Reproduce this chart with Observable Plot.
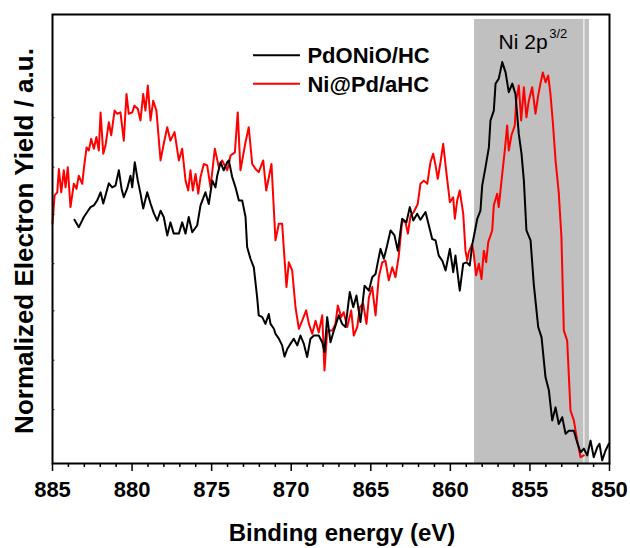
<!DOCTYPE html>
<html><head><meta charset="utf-8">
<script src="https://cdn.jsdelivr.net/npm/d3@7"></script>
<script src="https://cdn.jsdelivr.net/npm/@observablehq/plot@0.6"></script>
<style>
body{margin:0;background:#fff;}
#chart{width:630px;height:548px;}
</style>
</head><body><div id="chart"></div>
<script>
// ---- data ----
const seriesNames = ["PdONiO/HC", "Ni@Pd/aHC"];
const seriesColors = ["#000000", "#ff0000"];
const xTicks = [885, 880, 875, 870, 865, 860, 855, 850];
const xMinorTicks = [884,883,882,881,879,878,877,876,874,873,872,871,869,868,867,866,864,863,862,861,859,858,857,856,854,853,852,851];
const yMinorTicks = [12, 23, 34, 44.5, 55.5, 66, 77];
const bandStart = [858.48];
const bandEnd = [851.26];
const bandTop = 98.9;
const stripeEnergy = [851.61];
const peakLabel = "Ni 2p";
const peakSup = "3/2";

const blackEnergy = [883.62,883.35,883.03,882.82,882.61,882.40,882.19,881.98,881.81,881.67,
881.46,881.25,881.04,880.83,880.66,880.52,880.31,880.10,879.99,879.83,
879.64,879.47,879.30,879.05,878.84,878.63,878.42,878.21,878.01,877.79,
877.59,877.38,877.06,876.85,876.64,876.44,876.22,875.91,875.70,875.39,
875.18,874.96,874.76,874.65,874.44,874.24,874.02,873.92,873.71,873.50,
873.29,873.08,872.87,872.77,872.56,872.35,872.14,872.04,871.82,871.62,
871.41,871.30,871.09,870.99,870.78,870.57,870.42,870.25,870.04,869.84,
869.62,869.42,869.21,869.00,868.79,868.58,868.27,868.05,867.91,867.74,
867.53,867.32,867.01,866.80,866.59,866.32,866.10,865.90,865.65,865.39,
865.12,864.91,864.70,864.56,864.39,864.18,863.97,863.76,863.51,863.30,
863.03,862.76,862.55,862.33,862.08,861.88,861.56,861.35,861.14,860.93,
860.73,860.51,860.30,860.03,859.82,859.68,859.41,859.19,858.98,858.78,
858.63,858.31,858.11,858.00,857.79,857.58,857.48,857.27,857.16,856.96,
856.74,856.53,856.33,856.11,855.91,855.70,855.53,855.38,855.22,854.96,
854.76,854.48,854.27,854.02,853.81,853.60,853.39,853.19,852.97,852.76,
852.56,852.24,852.03,851.82,851.61,851.40,851.19,850.99,850.77,850.63,
850.46,850.25,850.04];
const blackYield = [54.3,52.6,54.9,56.0,57.1,57.5,58.6,60.4,57.9,59.7,
62.4,61.5,61.9,65.3,61.2,59.3,61.2,64.1,61.5,67.1,
63.0,60.1,56.8,60.4,57.9,55.7,54.1,56.3,54.9,50.8,
53.7,51.2,51.2,53.7,51.2,54.9,51.5,53.0,57.5,60.4,
57.8,63.0,61.5,64.1,67.1,65.3,67.1,67.5,63.8,61.5,
58.6,58.6,54.9,48.2,45.6,43.7,37.0,33.0,32.6,31.1,
33.3,31.1,30.0,28.9,27.8,26.3,23.8,25.5,26.7,27.8,
26.3,28.5,26.7,23.7,27.8,28.5,28.5,27.0,24.8,32.6,
27.0,29.6,33.0,31.1,30.4,38.2,34.8,37.4,31.5,39.6,
38.5,41.5,42.2,44.8,47.8,45.6,48.6,51.9,50.8,47.4,
54.5,53.7,57.1,54.1,55.6,54.3,56.0,53.0,50.0,49.7,
46.3,45.2,43.0,47.8,42.6,46.3,38.5,44.5,44.8,44.1,
48.6,54.5,56.3,61.9,66.0,70.4,76.4,78.6,84.6,85.7,
89.4,87.1,82.7,84.6,82.3,73.4,69.0,63.0,51.9,49.7,
40.0,30.4,28.1,19.2,16.3,9.6,12.5,8.8,10.3,6.6,
7.3,7.3,4.7,2.5,3.3,1.8,5.1,1.4,3.6,4.4,
0.7,2.9,4.4];

const redEnergy = [885.00,884.87,884.70,884.60,884.45,884.29,884.18,884.04,883.87,883.66,
883.49,883.35,883.13,883.03,882.86,882.72,882.57,882.40,882.24,882.09,
881.98,881.81,881.67,881.46,881.31,881.10,880.93,880.73,880.52,880.35,
880.21,879.99,879.85,879.64,879.47,879.30,879.16,879.01,878.84,878.67,
878.47,878.21,878.01,877.79,877.59,877.33,877.06,876.85,876.64,876.47,
876.33,876.18,876.01,875.84,875.70,875.49,875.28,875.07,874.80,874.55,
874.34,874.02,873.81,873.54,873.36,873.19,872.87,872.67,872.45,872.24,
872.04,871.76,871.57,871.24,870.99,870.78,870.57,870.30,870.15,869.94,
869.73,869.52,869.31,869.06,868.89,868.68,868.47,868.27,868.05,867.91,
867.74,867.42,867.22,867.07,866.86,866.70,866.48,866.23,866.07,865.85,
865.69,865.48,865.27,865.12,864.91,864.70,864.50,864.28,864.08,863.87,
863.65,863.45,863.24,863.03,862.82,862.67,862.50,862.30,862.05,861.88,
861.67,861.45,861.25,861.08,860.93,860.79,860.62,860.45,860.24,860.03,
859.82,859.72,859.57,859.41,859.19,859.05,858.94,858.84,858.63,858.53,
858.38,858.21,858.04,857.90,857.75,857.62,857.37,857.27,857.06,856.96,
856.74,856.58,856.43,856.33,856.16,855.95,855.86,855.70,855.55,855.38,
855.22,855.07,854.86,854.65,854.48,854.34,854.19,854.02,853.85,853.71,
853.56,853.39,853.19,853.02,852.87,852.66,852.45,852.24,852.03,851.82,
851.61];
const redYield = [53.4,59.7,60.4,65.6,60.4,65.3,61.5,66.0,57.1,62.3,
61.2,64.1,62.3,65.6,70.4,69.7,72.3,70.1,72.7,69.7,
78.2,69.0,70.8,76.0,73.1,78.6,77.9,78.2,71.9,82.3,
77.9,78.2,79.7,79.0,76.4,82.3,78.6,84.2,76.4,80.8,
78.6,67.5,71.2,74.9,71.9,73.8,67.5,70.1,63.0,60.8,
65.3,60.8,64.5,60.1,63.8,66.7,66.4,61.5,70.1,66.0,
67.5,65.3,68.6,69.3,78.2,65.3,71.6,74.9,66.7,65.6,
64.9,67.5,60.8,66.7,49.7,53.4,53.4,39.3,44.8,43.0,
34.8,30.0,31.8,34.1,31.1,28.9,31.8,29.2,33.0,20.7,
29.6,29.6,31.1,35.2,32.6,33.7,30.4,34.1,28.5,30.4,
34.8,35.6,31.1,37.0,39.3,33.0,41.5,44.8,45.2,40.8,
43.7,41.5,46.3,54.1,53.7,51.2,55.2,56.0,57.8,62.3,
63.0,62.3,67.1,69.0,66.4,63.4,67.1,71.2,64.5,58.2,
59.3,54.5,58.6,60.8,55.6,47.4,45.2,47.1,48.9,46.7,
41.9,44.5,41.1,47.4,44.8,49.3,51.9,57.5,60.1,57.1,
64.5,69.7,75.3,69.7,73.1,75.3,80.8,84.2,76.4,83.8,
77.1,80.8,83.8,77.9,82.0,84.6,87.1,84.9,86.4,82.3,
76.0,67.5,60.4,50.4,29.6,27.4,11.8,9.6,5.1,1.4,
1.8];

// legend placement (data units)
const legendYs = [90.9, 84.6];
const legendLineX = [872.37, 869.42];
const legendTextX = 868.98;

// ---- build tables ----
const blackData = blackEnergy.map((e, i) => ({energy: e, value: blackYield[i]}));
const redData = redEnergy.map((e, i) => ({energy: e, value: redYield[i]}));
const band = bandStart.map((s, i) => ({start: s, end: bandEnd[i], top: bandTop}));
const legendItems = seriesNames.map((name, i) => ({name, color: seriesColors[i], y: legendYs[i]}));

const font = "'Liberation Sans', Arial, Helvetica, sans-serif";

const chart = Plot.plot({
  width: 630,
  height: 548,
  marginLeft: 52,
  marginRight: 21,
  marginTop: 14,
  marginBottom: 85,
  x: {domain: [885, 850], label: null},
  y: {domain: [0, 100], axis: null},
  style: {fontFamily: font, background: "white", color: "black"},
  marks: [
    Plot.rect(band, {x1: "start", x2: "end", y1: () => 0, y2: "top", fill: "#c0c0c0"}),
    Plot.ruleX(stripeEnergy, {x: d => d, y1: 0, y2: bandTop, stroke: "#ececec", strokeWidth: 1.5}),
    Plot.line(redData, {x: "energy", y: "value", stroke: seriesColors[1], strokeWidth: 2}),
    Plot.line(blackData, {x: "energy", y: "value", stroke: seriesColors[0], strokeWidth: 2}),
    Plot.ruleY(yMinorTicks, {y: d => d, x1: 885, x2: 884.85, stroke: "black", strokeWidth: 1}),
    Plot.frame({stroke: "black", strokeWidth: 2}),
    Plot.axisX(xMinorTicks, {tickSize: 4, tickFormat: () => "", strokeWidth: 1.5, label: null}),
    Plot.axisX(xTicks, {tickSize: 8, tickPadding: 10, fontSize: 22, fontWeight: "bold", strokeWidth: 1.5, label: null}),
    ...legendItems.map(it => Plot.ruleY([it.y], {y: d => d, x1: legendLineX[0], x2: legendLineX[1], stroke: it.color, strokeWidth: 2})),
    Plot.text(legendItems, {x: () => legendTextX, y: "y", text: "name", textAnchor: "start", lineAnchor: "middle", fontSize: 22, fontWeight: "bold", fill: "black", dy: 1}),
    Plot.text([peakLabel], {x: () => 856.97, y: () => 93.85, text: d => d, textAnchor: "start", lineAnchor: "middle", fontSize: 21, fill: "black"}),
    Plot.text([peakSup], {x: () => 853.79, y: () => 95.6, text: d => d, textAnchor: "start", lineAnchor: "middle", fontSize: 13, fill: "black"})
  ]
});

document.getElementById("chart").appendChild(chart);

const svg = d3.select(chart);
svg.append("text")
  .attr("transform", "translate(33,241) rotate(-90)")
  .attr("text-anchor", "middle")
  .attr("font-family", font)
  .attr("font-size", 26)
  .attr("font-weight", "bold")
  .attr("fill", "black")
  .text("Normalized Electron Yield / a.u.");
svg.append("text")
  .attr("x", 342)
  .attr("y", 541)
  .attr("text-anchor", "middle")
  .attr("font-family", font)
  .attr("font-size", 24)
  .attr("font-weight", "bold")
  .attr("fill", "black")
  .text("Binding energy (eV)");
</script>
</body></html>
